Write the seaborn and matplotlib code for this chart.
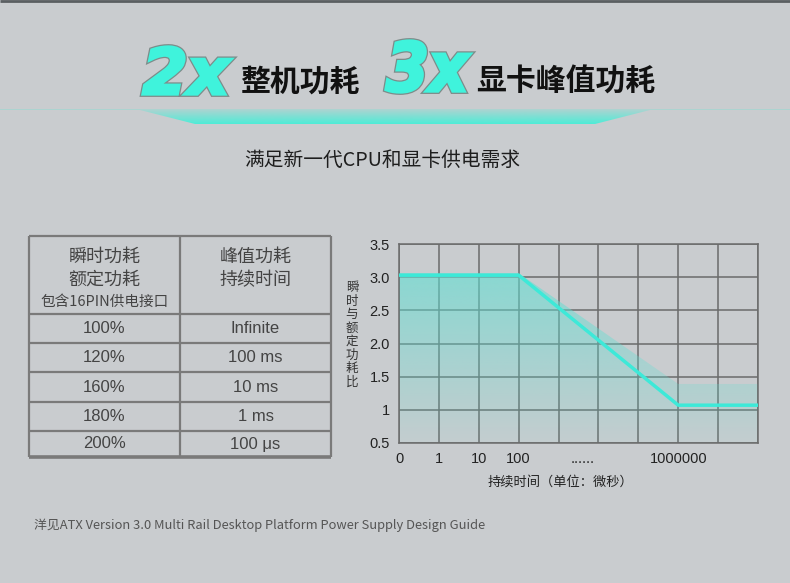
import numpy as np
import pandas as pd
import seaborn as sns
import matplotlib.pyplot as plt
from matplotlib.colors import LinearSegmentedColormap, to_rgb
from matplotlib.patches import PathPatch
from matplotlib.textpath import TextPath
from matplotlib.font_manager import FontProperties
from matplotlib.transforms import Affine2D

# ---- data ----
table_ratio = ["100%", "120%", "160%", "180%", "200%"]
table_duration = ["Infinite", "100 ms", "10 ms", "1 ms", "100 μs"]

time_pos = [0, 3, 7, 9]
ratio_line = [3.03, 3.03, 1.07, 1.07]
ratio_band = [3.06, 3.06, 1.39, 1.39]

x_tick_pos = [0, 1, 2, 3, 7]
x_tick_labels = ["0", "1", "10", "100", "1000000"]
y_ticks = [0.5, 1, 1.5, 2, 2.5, 3, 3.5]
y_tick_labels = ["0.5", "1", "1.5", "2.0", "2.5", "3.0", "3.5"]

BG = "#c9cccf"
CYAN = "#3de9d8"
GRID = "#6b6b6b"
CJK = ["Noto Sans CJK SC", "DejaVu Sans"]
LAT = ["Liberation Sans", "Noto Sans CJK SC"]

sns.set_theme(style="white", rc={"figure.facecolor": BG, "axes.facecolor": "none"})
plt.rcParams["font.family"] = CJK

fig = plt.figure(figsize=(7.9, 5.83), dpi=100)

# full-figure layer in pixel coordinates for the decoration and the table
ax0 = fig.add_axes([0, 0, 1, 1])
ax0.set_xlim(0, 790)
ax0.set_ylim(583, 0)
ax0.axis("off")

ax0.hlines(0.8, 0, 790, color="#5a5f62", lw=2)

# cyan band under the title
band_x = [0, 140, 195, 595, 650, 790, 790, 0]
band_y = [110, 110, 124, 124, 110, 110, 109, 109]
band = ax0.fill(band_x, band_y, color="none")[0]
c = to_rgb("#40f0d8")
band_cmap = LinearSegmentedColormap.from_list("band", [(*c, 0.15), (*c, 0.95)])
img = ax0.imshow(np.linspace(0, 1, 64).reshape(-1, 1), extent=[0, 790, 108, 125],
                 cmap=band_cmap, aspect="auto", origin="lower", zorder=1)
img.set_clip_path(band)
ax0.set_xlim(0, 790)
ax0.set_ylim(583, 0)


def big_label(s, x0, x1, y_top, y_bot):
    tp = TextPath((0, 0), s, size=50,
                  prop=FontProperties(family="DejaVu Sans", weight="bold", style="oblique"))
    bb = tp.get_extents()
    tr = (Affine2D().translate(-bb.x0, -bb.y0)
          .scale((x1 - x0) / bb.width, -(y_bot - y_top) / bb.height)
          .translate(x0, y_bot))
    path = tr.transform_path(tp)
    ax0.add_patch(PathPatch(path, facecolor="#7d8c8a", edgecolor="#7d8c8a", lw=4.2, zorder=3))
    ax0.add_patch(PathPatch(path, facecolor="#3ff3dc", edgecolor="#3ff3dc", lw=2.4, zorder=3))


big_label("2x", 143, 231, 47, 94)
big_label("3x", 386, 470, 41, 92)
ax0.text(240, 82, "整机功耗", fontsize=21.5, fontweight="bold", color="#111",
         ha="left", va="center")
ax0.text(476, 82, "显卡峰值功耗", fontsize=21.5, fontweight="bold", color="#111",
         ha="left", va="center")

ax0.text(382, 160, "满足新一代CPU和显卡供电需求", fontsize=14.2, color="#1e1e1e",
         ha="center", va="center")

# table
col_x = [29, 180, 331]
row_y = [236, 314, 343, 372, 402, 431, 457]
ax0.vlines(col_x, row_y[0], row_y[-1], color="#7a7a7a", lw=1.6)
ax0.hlines(row_y[:-1], col_x[0], col_x[-1], color="#7a7a7a", lw=1.6)
ax0.hlines(row_y[-1], col_x[0], col_x[-1], color="#7a7a7a", lw=2.6)
lc = (col_x[0] + col_x[1]) / 2
rc = (col_x[1] + col_x[2]) / 2
head = dict(fontsize=13, color="#444", ha="center", va="center")
ax0.text(lc, 257, "瞬时功耗", **head)
ax0.text(lc, 280, "额定功耗", **head)
ax0.text(lc, 302, "包含16PIN供电接口", fontsize=10.5, color="#444", ha="center", va="center")
ax0.text(rc, 257, "峰值功耗", **head)
ax0.text(rc, 280, "持续时间", **head)
for i, (r, d) in enumerate(zip(table_ratio, table_duration)):
    yc = (row_y[i + 1] + row_y[i + 2]) / 2
    ax0.text(lc, yc, r, fontsize=12, color="#444", ha="center", va="center", family=LAT)
    ax0.text(rc, yc, d, fontsize=12, color="#444", ha="center", va="center", family=LAT)

# axis titles of the chart
ax0.text(352, 335, "\n".join("瞬时与额定功耗比"), fontsize=9, color="#333",
         ha="center", va="center", linespacing=1.05)
ax0.text(560, 482, "持续时间（单位：微秒）", fontsize=9.5, color="#222",
         ha="center", va="center")

ax0.text(34, 525, "洋见ATX Version 3.0 Multi Rail Desktop Platform Power Supply Design Guide",
         fontsize=9.3, color="#555", ha="left", va="center")

# ---- chart ----
ax = fig.add_axes([399 / 790, 140 / 583, 359 / 790, 199 / 583])
df = pd.DataFrame({"t": time_pos, "ratio": ratio_line, "band": ratio_band})

poly = ax.fill_between(df["t"], df["band"], 0.5, facecolor="none", edgecolor="none")
tc = to_rgb("#5fe0d3")
fill_cmap = LinearSegmentedColormap.from_list("fill", [(*tc, 0.05), (*tc, 0.6)])
gimg = ax.imshow(np.linspace(0, 1, 256).reshape(-1, 1), extent=[0, 9, 0.5, max(ratio_band)],
                 cmap=fill_cmap, aspect="auto", origin="lower", zorder=2)
gimg.set_clip_path(poly.get_paths()[0], transform=ax.transData)

sns.lineplot(data=df, x="t", y="ratio", ax=ax, color=CYAN, lw=2.5, zorder=4)

ax.set_xlim(0, 9)
ax.set_ylim(0.5, 3.5)
ax.set_xticks(range(10))
ax.set_xticklabels([x_tick_labels[x_tick_pos.index(i)] if i in x_tick_pos else "" for i in range(10)])
ax.set_xticks([4.6], ["......"], minor=True)
ax.set_yticks(y_ticks, y_tick_labels)
ax.tick_params(axis="both", which="both", length=0, labelsize=10.5, labelcolor="#222", pad=6.5)
for lab in ax.get_xticklabels(which="both") + ax.get_yticklabels():
    lab.set_family(LAT)
ax.grid(True, which="major", color=GRID, lw=1.1)
ax.set_axisbelow(True)
for s in ax.spines.values():
    s.set_visible(True)
    s.set_color(GRID)
    s.set_linewidth(1.1)
ax.set_xlabel("")
ax.set_ylabel("")

fig.savefig("out.png", dpi=100, facecolor=BG)
